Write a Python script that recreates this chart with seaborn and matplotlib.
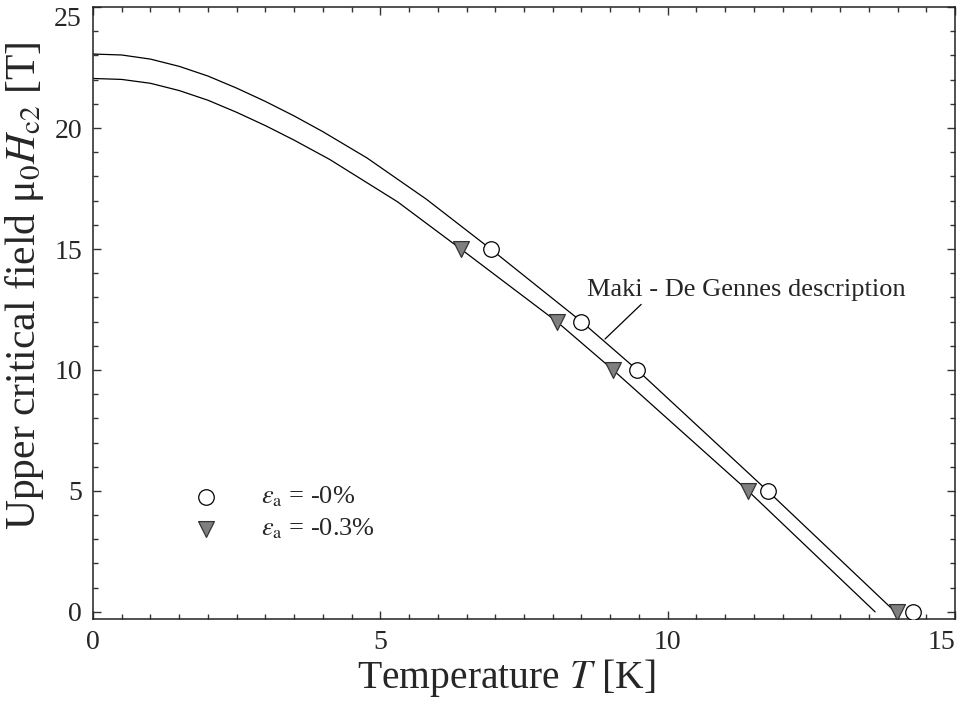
import matplotlib
matplotlib.use("Agg")
import matplotlib.pyplot as plt
import seaborn as sns
import pandas as pd

# --- data ---
field_pts = [15, 12, 10, 5, 0]
temp_eps0 = [6.92, 8.50, 9.47, 11.74, 14.27]
temp_eps03 = [6.40, 8.07, 9.05, 11.40, 13.99]

# Maki - De Gennes description curves
curve0_T = [0.0, 0.5, 1.0, 1.5, 2.0, 2.5, 3.0, 3.5, 4.0, 4.77, 5.8, 6.92, 8.50, 9.47, 11.74, 13.96]
curve0_H = [23.06, 23.02, 22.85, 22.55, 22.15, 21.65, 21.1, 20.5, 19.85, 18.76, 17.06, 15.0, 12.0, 10.0, 5.0, 0.0]
curve03_T = [0.0, 0.5, 1.0, 1.5, 2.0, 2.5, 3.0, 3.5, 4.12, 5.3, 6.40, 8.07, 9.05, 11.40, 13.61]
curve03_H = [22.05, 22.01, 21.85, 21.55, 21.15, 20.65, 20.1, 19.5, 18.7, 16.95, 15.0, 12.0, 10.0, 5.0, 0.0]

labels = [r"$\varepsilon_{\rm a}$ = -0%", r"$\varepsilon_{\rm a}$ = -0.3%"]
annot_text = "Maki - De Gennes description"

sns.set_style("ticks")
plt.rcParams["font.family"] = ["Liberation Serif", "DejaVu Serif"]
plt.rcParams["mathtext.fontset"] = "stix"

fig = plt.figure(figsize=(9.72, 7.10), dpi=100)
ax = fig.add_axes([0.0957, 0.128, 0.8868, 0.862])

df_c0 = pd.DataFrame({"T": curve0_T, "H": curve0_H})
df_c3 = pd.DataFrame({"T": curve03_T, "H": curve03_H})
sns.lineplot(data=df_c0, x="T", y="H", sort=False, estimator=None, color="black", lw=0.9, ax=ax)
sns.lineplot(data=df_c3, x="T", y="H", sort=False, estimator=None, color="black", lw=0.9, ax=ax)

df0 = pd.DataFrame({"T": temp_eps0, "H": field_pts})
df3 = pd.DataFrame({"T": temp_eps03, "H": field_pts})
sns.scatterplot(data=df0, x="T", y="H", marker="o", s=125, facecolor="white",
                edgecolor="black", linewidth=0.9, label=labels[0], ax=ax, zorder=5)
sns.scatterplot(data=df3, x="T", y="H", marker="v", s=130, facecolor="#7f7f7f",
                edgecolor="#333333", linewidth=0.9, label=labels[1], ax=ax, zorder=5)

ax.set_xlim(0, 15)
ax.set_ylim(-0.3, 25)
ax.set_xticks([0, 5, 10, 15])
ax.set_yticks([0, 5, 10, 15, 20, 25])
ax.xaxis.set_minor_locator(matplotlib.ticker.MultipleLocator(0.5))
ax.yaxis.set_minor_locator(matplotlib.ticker.MultipleLocator(1))
ax.tick_params(which="both", direction="in", top=True, right=True, width=1.0, color="#333333")
ax.tick_params(which="major", length=6, labelsize=20, pad=8)
ax.tick_params(which="minor", length=3.6)
for sp in ax.spines.values():
    sp.set_linewidth(1.1)
    sp.set_color("#222222")

ax.set_xlabel("Temperature $T$ [K]", fontsize=28.5)
ax.set_ylabel(r"Upper critical field μ$_0$$H_{\rm c2}$ [T]", fontsize=30)
ax.xaxis.set_label_coords(0.479, -0.062)
ax.yaxis.set_label_coords(-0.054, 0.545)

ax.annotate(annot_text, xy=(8.91, 11.28), xytext=(8.6, 13.3),
            fontsize=19, ha="left", va="center",
            arrowprops=dict(arrowstyle="-", color="black", lw=0.9,
                            shrinkA=0, shrinkB=0, relpos=(0.18, 0.0)))

leg = ax.legend(loc="upper left", bbox_to_anchor=(0.1154, 0.22), frameon=False,
                fontsize=19, handlelength=1.0, handletextpad=1.6, borderpad=0,
                borderaxespad=0, labelspacing=0.28, scatterpoints=1)

fig.canvas.draw()
xtl = ax.get_xticklabels()
xtl[-1].set_horizontalalignment("right")
ytl = ax.get_yticklabels()
ytl[-1].set_verticalalignment("top")

fig.savefig("out.png", dpi=100)
